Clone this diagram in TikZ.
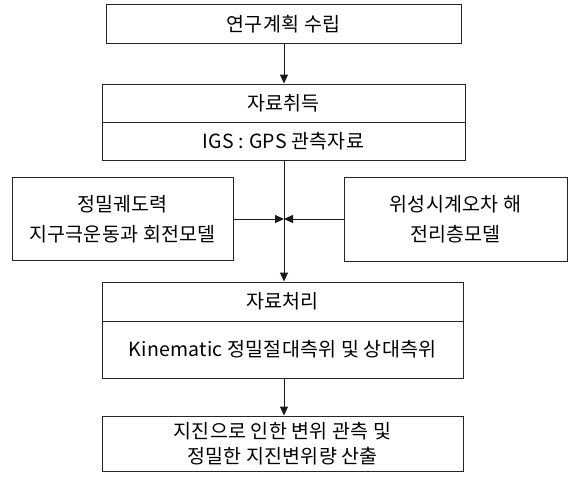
\documentclass[tikz,border=0pt]{standalone}
\usepackage{fontspec}
\setmainfont{Noto Sans CJK KR}[LetterSpace=1.5]
\usetikzlibrary{arrows.meta}
\tikzset{
  box/.style={draw=black!85, line width=0.9pt, rectangle, inner sep=0pt, align=center,
    font=\fontsize{19.5}{30}\selectfont},
  conn/.style={draw=black!90, line width=1pt, -{Triangle[length=9pt,width=8pt]}},
  plain/.style={draw=black!90, line width=1pt}
}
\begin{document}
\begin{tikzpicture}[x=1pt,y=-1pt]
\useasboundingbox (0,0) rectangle (571,477);
\node[box, minimum width=355pt, minimum height=39pt] (plan) at (283.5,24) {연구계획 수립};
\node[box, minimum width=363pt, minimum height=38pt] (acq) at (283.5,103) {자료취득};
\node[box, minimum width=363pt, minimum height=38pt] (igs) at (283.5,141) {IGS : GPS 관측자료};
\node[box, minimum width=221pt, minimum height=83pt] (orbit) at (122.5,219) {정밀궤도력\\지구극운동과 회전모델};
\node[box, minimum width=223pt, minimum height=84pt] (clock) at (455.5,219) {위성시계오차 해\\전리층모델};
\node[box, minimum width=361pt, minimum height=39pt] (proc) at (282.5,301.5) {자료처리};
\node[box, minimum width=361pt, minimum height=57pt] (kin) at (282.5,349.5) {Kinematic 정밀절대측위 및 상대측위};
\node[box, minimum width=361pt, minimum height=55pt, font=\fontsize{19.5}{25}\selectfont] (quake) at (282.5,443.5) {지진으로 인한 변위 관측 및\\정밀한 지진변위량 산출};
\coordinate (j) at (284,219);
\draw[conn] (plan.south -| j) -- (acq.north -| j);
\draw[plain] (igs.south -| j) -- (j);
\draw[conn] (j) -- (proc.north -| j);
\draw[conn] (orbit.east) -- (j);
\draw[conn] (clock.west) -- (j);
\draw[conn] (kin.south -| j) -- (quake.north -| j);
\end{tikzpicture}
\end{document}
